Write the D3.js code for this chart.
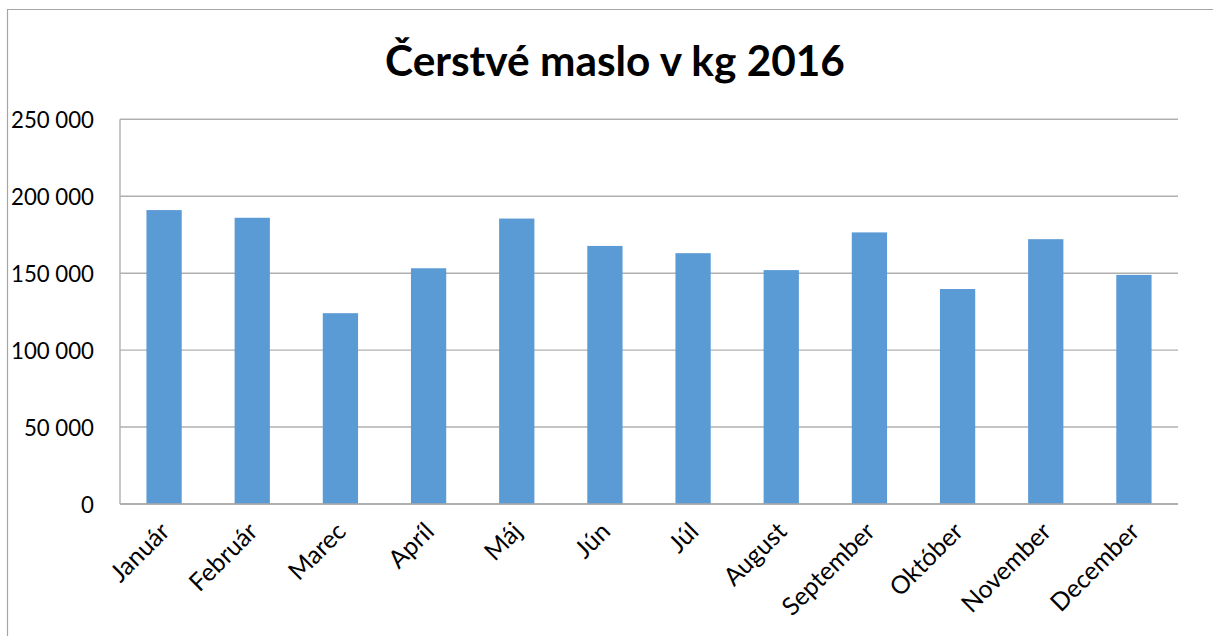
<!DOCTYPE html>
<html>
<head>
<meta charset="utf-8">
<script src="https://cdn.jsdelivr.net/npm/d3@7"></script>
<style>
  html, body { margin: 0; padding: 0; background: #fff; }
  svg { display: block; }
</style>
</head>
<body>
<script>
const title = "Čerstvé maslo v kg 2016";
const months = ["Január","Február","Marec","Apríl","Máj","Jún","Júl","August","September","Október","November","December"];
const values = [191000, 186000, 124000, 153200, 185500, 167700, 163000, 152000, 176500, 139700, 172100, 148900];
const yTicks = [0, 50000, 100000, 150000, 200000, 250000];

const W = 1213, H = 636;
const FONT = "Lato, 'Open Sans', sans-serif";
const svg = d3.select("body").append("svg").attr("width", W).attr("height", H);

function fitSize(text, weight, target) {
  const t = svg.append("text").attr("font-family", FONT).attr("font-weight", weight)
    .attr("font-size", 100).text(text);
  const w = t.node().getComputedTextLength();
  t.remove();
  return 100 * target / w;
}

// outer chart border
svg.append("path").attr("d", `M7.5,${H} V9.5 H${W}`)
  .attr("fill", "none").attr("stroke", "#a6a6a6").attr("stroke-width", 1.2);

const plot = {left: 120, right: 1178, top: 119.3, bottom: 504};

const x = d3.scaleBand().domain(months).range([plot.left, plot.right])
  .paddingInner(0.6).paddingOuter(0.3);
const y = d3.scaleLinear().domain([0, 250000]).range([plot.bottom, plot.top]);

const fmt = v => d3.format(",")(v).replace(/,/g, " ");

// gridlines
svg.append("g").selectAll("line").data(yTicks).join("line")
  .attr("x1", plot.left).attr("x2", plot.right)
  .attr("y1", d => y(d)).attr("y2", d => y(d))
  .attr("stroke", "#b0b0b0").attr("stroke-width", 1.4);

// y axis line
svg.append("line").attr("x1", plot.left).attr("x2", plot.left)
  .attr("y1", plot.top).attr("y2", plot.bottom)
  .attr("stroke", "#b0b0b0").attr("stroke-width", 1.4);

// bars
svg.append("g").selectAll("rect").data(values).join("rect")
  .attr("x", (d, i) => x(months[i]))
  .attr("width", x.bandwidth())
  .attr("y", d => y(d))
  .attr("height", d => y(0) - y(d))
  .attr("fill", "#5b9bd5");

// axis line on top of bars
svg.append("line").attr("x1", plot.left).attr("x2", plot.right)
  .attr("y1", y(0)).attr("y2", y(0))
  .attr("stroke", "#a8a8a8").attr("stroke-width", 1.4);

// y labels via d3 axis
const labelSize = fitSize("250 000", 400, 83);
const yAxis = d3.axisLeft(y).tickValues(yTicks).tickFormat(fmt).tickSize(0).tickPadding(0);
const yg = svg.append("g").attr("transform", `translate(94,0)`).call(yAxis);
yg.select(".domain").remove();
yg.selectAll("text").attr("font-family", FONT).attr("font-size", labelSize)
  .attr("fill", "#000").attr("dy", "0.36em").attr("x", 0);

// x labels
const xSize = fitSize("September", 400, 119);
svg.append("g").selectAll("text").data(months).join("text")
  .attr("transform", d => `translate(${x(d) + x.bandwidth() / 2 + 7},533) rotate(-45)`)
  .attr("text-anchor", "end")
  .attr("font-family", FONT).attr("font-size", xSize).attr("fill", "#000")
  .text(d => d);

// title
const titleSize = fitSize(title, 700, 460);
svg.append("text").attr("x", 615).attr("y", 76).attr("text-anchor", "middle")
  .attr("font-family", FONT).attr("font-weight", 700).attr("font-size", titleSize)
  .attr("fill", "#000").text(title);
</script>
</body>
</html>
